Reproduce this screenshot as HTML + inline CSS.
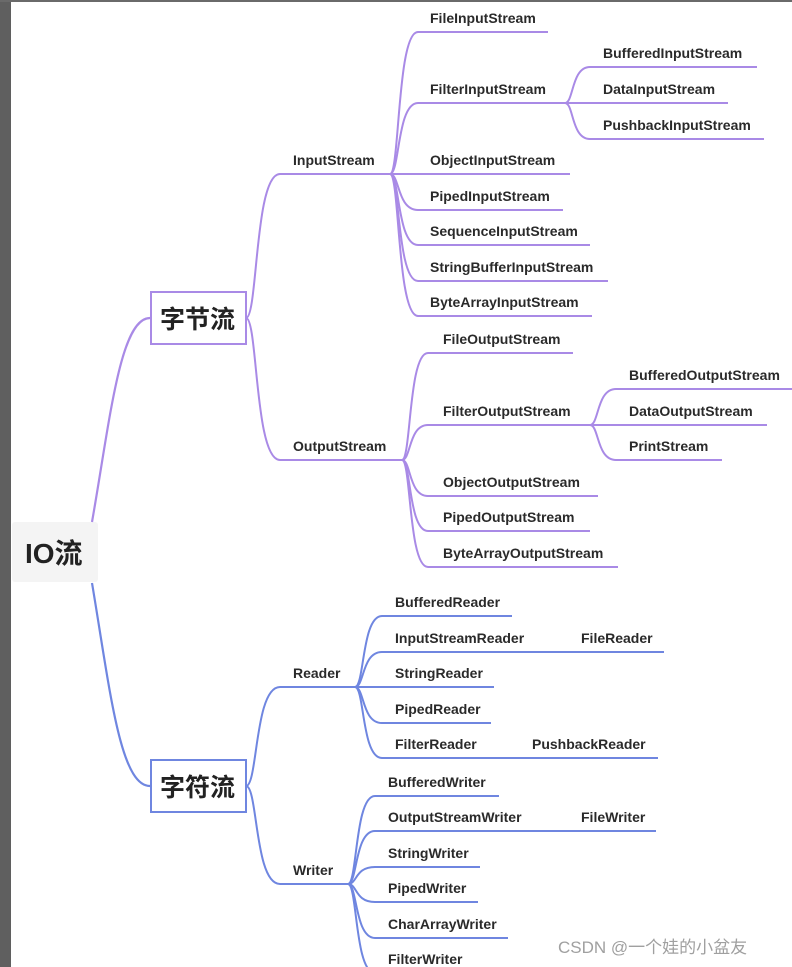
<!DOCTYPE html>
<html><head><meta charset="utf-8"><style>
html,body{margin:0;padding:0;background:#fff;}
body{width:792px;height:967px;overflow:hidden;position:relative;}
svg{position:absolute;left:0;top:0;}
text{font-family:"Liberation Sans","Noto Sans CJK SC",sans-serif;}
</style></head><body>
<svg id="s" width="792" height="967" xmlns="http://www.w3.org/2000/svg">
<rect x="0" y="0" width="11" height="967" fill="#5f5f5f"/>
<rect x="0" y="0" width="792" height="2" fill="#6a6a6a"/>
<rect x="12" y="522" width="86" height="60" rx="3" fill="#f4f4f4"/>
<text x="25" y="563" font-size="28" font-weight="bold" fill="#222">IO流</text>
<g id="g"></g>
<rect x="151" y="292" width="95" height="52" fill="#fff" stroke="#a98ae6" stroke-width="2"/>
<text x="160" y="328" font-size="25" font-weight="bold" fill="#222">字节流</text>
<rect x="151" y="760" width="95" height="52" fill="#fff" stroke="#6f86e0" stroke-width="2"/>
<text x="160" y="796" font-size="25" font-weight="bold" fill="#222">字符流</text>
<text x="558" y="953" font-size="17" fill="#a0a0a0">CSDN @一个娃的小盆友</text>
</svg>
<script>
var g=document.getElementById('g'),ns='http://www.w3.org/2000/svg';
function P(d,c,w){var p=document.createElementNS(ns,'path');p.setAttribute('d',d);p.setAttribute('stroke',c);p.setAttribute('stroke-width',w||2);p.setAttribute('fill','none');g.appendChild(p);}
function T(x,y,t){var e=document.createElementNS(ns,'text');e.setAttribute('x',x);e.setAttribute('y',y);e.setAttribute('font-size','14');e.setAttribute('font-weight','bold');e.setAttribute('fill','#2a2a2a');e.textContent=t;g.appendChild(e);}
function C(px,py,cx,cy,ex,c){var dx=cx-px;P('M'+px+' '+py+' C'+(px+dx*0.35)+' '+py+' '+(px+dx*0.25)+' '+cy+' '+cx+' '+cy+' L'+ex+' '+cy,c);}
var pu='#a98ae6',bl='#6f86e0';
P('M92 522 C110 420 120 318 150 318',pu,2.2);
P('M92 583 C110 690 120 786 150 786',bl,2.2);
C(246,318,280,174,390,pu);T(293,165,'InputStream');
C(246,318,280,460,402,pu);T(293,451,'OutputStream');
var ins=[[32,548,'FileInputStream'],[103,565,'FilterInputStream'],[174,570,'ObjectInputStream'],[210,563,'PipedInputStream'],[245,590,'SequenceInputStream'],[281,608,'StringBufferInputStream'],[316,592,'ByteArrayInputStream']];
ins.forEach(function(a){C(390,174,418,a[0],a[1],pu);T(430,a[0]-9,a[2]);});
[[67,757,'BufferedInputStream'],[103,728,'DataInputStream'],[139,764,'PushbackInputStream']].forEach(function(a){C(565,103,590,a[0],a[1],pu);T(603,a[0]-9,a[2]);});
var outs=[[353,573,'FileOutputStream'],[425,590,'FilterOutputStream'],[496,598,'ObjectOutputStream'],[531,590,'PipedOutputStream'],[567,618,'ByteArrayOutputStream']];
outs.forEach(function(a){C(402,460,428,a[0],a[1],pu);T(443,a[0]-9,a[2]);});
[[389,792,'BufferedOutputStream'],[425,767,'DataOutputStream'],[460,722,'PrintStream']].forEach(function(a){C(590,425,616,a[0],a[1],pu);T(629,a[0]-9,a[2]);});
C(246,786,280,687,355,bl);T(293,678,'Reader');
C(246,786,280,884,348,bl);T(293,875,'Writer');
[[616,512,'BufferedReader'],[652,664,'InputStreamReader'],[687,494,'StringReader'],[723,491,'PipedReader'],[758,658,'FilterReader']].forEach(function(a){C(355,687,382,a[0],a[1],bl);T(395,a[0]-9,a[2]);});
T(581,643,'FileReader');T(532,749,'PushbackReader');
[[796,499,'BufferedWriter'],[831,656,'OutputStreamWriter'],[867,480,'StringWriter'],[902,478,'PipedWriter'],[938,508,'CharArrayWriter'],[973,480,'FilterWriter']].forEach(function(a){C(348,884,375,a[0],a[1],bl);T(388,a[0]-9,a[2]);});
T(581,822,'FileWriter');
</script>
</body></html>
